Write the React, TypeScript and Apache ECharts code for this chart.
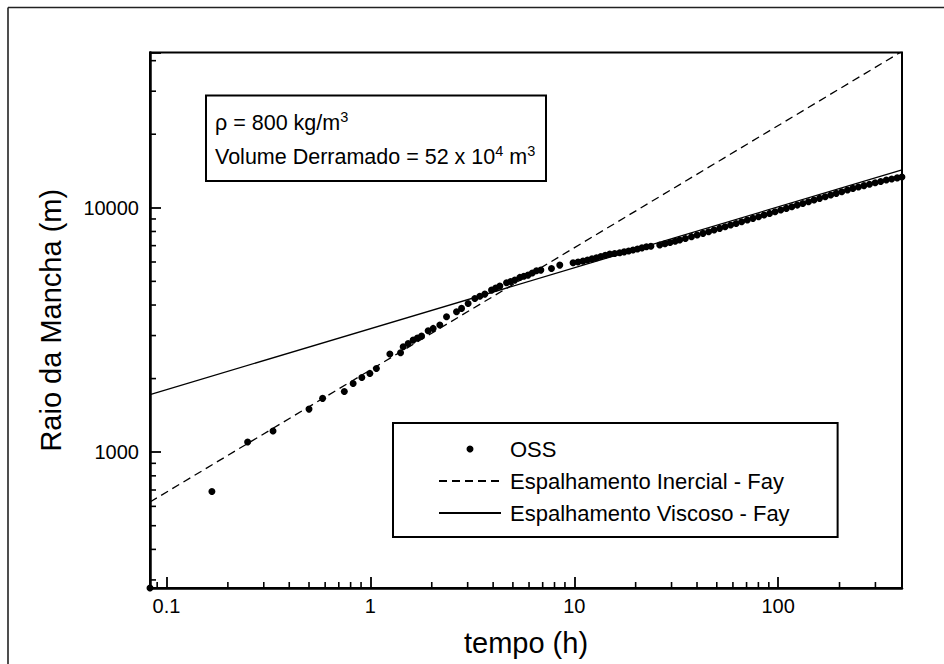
import React, { useEffect, useRef } from "react";
import * as echarts from "echarts";

// Axis ranges (log scales)
const X_MIN = 0.083;
const X_MAX = 405;
const Y_MIN = 278;
const Y_MAX = 43200;

// Tick labels / tick positions
const xMajorTicks = [0.1, 1, 10, 100];
const yMajorTicks = [1000, 10000];
const xMinorTicks = [0.09, 0.2, 0.3, 0.4, 0.5, 0.6, 0.7, 0.8, 0.9, 2, 3, 4, 5, 6, 7, 8, 9, 20, 30, 40, 50, 60, 70, 80, 90, 200, 300];
const yMinorTicks = [300, 400, 500, 600, 700, 800, 900, 2000, 3000, 4000, 5000, 6000, 7000, 8000, 9000, 20000, 30000, 40000];

// OSS model results (time in hours, radius in metres)
const ossTime = [
  0.083, 0.167, 0.25, 0.333, 0.5, 0.583, 0.745, 0.823, 0.908, 0.994, 1.07, 1.246, 1.406,
  1.448, 1.532, 1.621, 1.7, 1.782, 1.92, 2.032, 2.191, 2.363, 2.645, 2.8, 3.016, 3.253,
  3.442, 3.642, 3.928, 4.117, 4.314, 4.653, 4.875, 5.108, 5.405, 5.662, 5.935, 6.223,
  6.526, 6.855, 7.731, 8.49, 9.865, 10.44, 11.04, 11.61, 12.22, 12.85, 13.51, 14.2,
  14.93, 15.79, 16.71, 17.57, 18.48, 19.42, 20.42, 21.48, 22.59, 23.77, 26.25, 27.86,
  29.51, 31.26, 32.9, 35.08, 37.58, 40.09, 42.8, 45.6, 48.53, 51.67, 54.95, 58.48,
  62.23, 66.22, 70.63, 75.25, 80.17, 85.31, 90.78, 96.61, 103.0, 109.7, 116.7, 124.2,
  132.1, 140.9, 150.0, 159.7, 170.2, 181.1, 192.8, 205.1, 218.8, 232.6, 247.7, 263.6,
  280.5, 299.2, 318.4, 339.2, 360.6, 383.7, 404.6,
];
const ossRadius = [
  278, 690, 1100, 1220, 1500, 1660, 1770, 1910, 2020, 2100, 2200, 2520, 2550,
  2698, 2785, 2874, 2929, 2984, 3137, 3209, 3311, 3580, 3752, 3875, 4061, 4257,
  4344, 4433, 4604, 4691, 4781, 4932, 4995, 5058, 5189, 5246, 5303, 5412,
  5522, 5558, 5648, 5827, 5955, 6003, 6051, 6114, 6178, 6243, 6316, 6390,
  6465, 6505, 6545, 6601, 6656, 6713, 6783, 6855, 6927, 6964, 7038, 7126,
  7211, 7300, 7377, 7492, 7618, 7736, 7858, 7984, 8110, 8238, 8366, 8498,
  8630, 8767, 8909, 9052, 9197, 9342, 9484, 9634, 9788, 9943, 10097, 10257,
  10418, 10588, 10755, 10928, 11103, 11279, 11455, 11633, 11822, 12006, 12165, 12323,
  12483, 12651, 12818, 12985, 13117, 13254, 13370,
];

// Fay spreading laws (end points of the straight lines on log-log axes)
const inercialTime = [0.083, 405];
const inercialRadius = [625, 43660];
const viscosoTime = [0.083, 405];
const viscosoRadius = [1720, 14300];

const seriesNames = ["OSS", "Espalhamento Inercial - Fay", "Espalhamento Viscoso - Fay"];

const FONT = "'Liberation Sans', Arial, Helvetica, sans-serif";

function isMajor(v: number, list: number[]) {
  return list.some((m) => Math.abs(v - m) / m < 1e-6);
}

export default function App() {
  const ref = useRef<HTMLDivElement>(null);

  useEffect(() => {
    if (!ref.current) return;
    const chart = echarts.init(ref.current, undefined, { renderer: "svg" });

    const pair = (xs: number[], ys: number[]) => xs.map((x, i) => [x, ys[i]]);
    const supStyle = { fontSize: 14.5, fontFamily: FONT, fill: "#000", padding: [0, 0, 13, 0] };

    const option: any = {
      animation: false,
      backgroundColor: "#fff",
      textStyle: { fontFamily: FONT },
      grid: {
        left: 150,
        right: 42,
        top: 52.5,
        bottom: 76,
        show: true,
        borderColor: "#000",
        borderWidth: 2,
        backgroundColor: "transparent",
        containLabel: false,
        outerBoundsMode: "none",
      },
      legend: {
        orient: "vertical",
        left: 393,
        top: 423,
        data: [
          { name: seriesNames[0] },
          { name: seriesNames[1], itemStyle: { opacity: 0 } },
          { name: seriesNames[2], itemStyle: { opacity: 0 } },
        ],
        itemWidth: 62,
        itemHeight: 7,
        itemGap: 10,
        padding: [15, 48, 13, 45],
        borderColor: "#000",
        borderWidth: 2,
        backgroundColor: "#fff",
        textStyle: { fontSize: 22, color: "#000", fontFamily: FONT, padding: [0, 0, 0, 4] },
        selectedMode: false,
      },
      xAxis: {
        type: "log",
        logBase: 10,
        min: X_MIN,
        max: X_MAX,
        name: "tempo (h)",
        nameLocation: "middle",
        nameGap: 40,
        nameMoveOverlap: false,
        nameTextStyle: { fontSize: 29, color: "#000", fontFamily: FONT },
        axisLine: { show: true, onZero: false, lineStyle: { color: "#000", width: 2.5 } },
        axisTick: { show: true, inside: true, length: 11, lineStyle: { color: "#000", width: 1.8 } },
        axisLabel: {
          show: true,
          margin: 8,
          fontSize: 20,
          color: "#000",
          fontFamily: FONT,
          hideOverlap: false,
          formatter: (v: number) => (isMajor(v, xMajorTicks) ? String(v < 1 ? v.toFixed(1) : Math.round(v)) : ""),
        },
        splitLine: { show: false },
        minorTick: { show: false },
      },
      yAxis: {
        type: "log",
        logBase: 10,
        min: Y_MIN,
        max: Y_MAX,
        name: "Raio da Mancha (m)",
        nameLocation: "middle",
        nameRotate: 90,
        nameGap: 85,
        nameMoveOverlap: false,
        nameTextStyle: { fontSize: 29, color: "#000", fontFamily: FONT },
        axisLine: { show: true, onZero: false, lineStyle: { color: "#000", width: 2.5 } },
        axisTick: { show: true, inside: true, length: 11, lineStyle: { color: "#000", width: 1.8 } },
        axisLabel: {
          show: true,
          margin: 11,
          fontSize: 20,
          color: "#000",
          fontFamily: FONT,
          hideOverlap: false,
          formatter: (v: number) => (isMajor(v, yMajorTicks) ? String(Math.round(v)) : ""),
        },
        splitLine: { show: false },
        minorTick: { show: false },
      },
      series: [
        {
          name: seriesNames[1],
          type: "line",
          data: pair(inercialTime, inercialRadius),
          symbol: "none",
          showSymbol: false,
          lineStyle: { color: "#000", width: 1.3, type: [8, 5] },
          itemStyle: { color: "#000" },
          z: 2,
        },
        {
          name: seriesNames[2],
          type: "line",
          data: pair(viscosoTime, viscosoRadius),
          symbol: "none",
          showSymbol: false,
          lineStyle: { color: "#000", width: 1.3, type: "solid" },
          itemStyle: { color: "#000" },
          z: 2,
        },
        {
          name: seriesNames[0],
          type: "scatter",
          data: pair(ossTime, ossRadius),
          symbol: "circle",
          symbolSize: 7,
          clip: false,
          itemStyle: { color: "#000", opacity: 1 },
          z: 3,
        },
        {
          name: "xMinor",
          type: "custom",
          silent: true,
          data: xMinorTicks.map((v) => [v, Y_MIN]),
          renderItem: (_p: any, api: any) => {
            const pt = api.coord([api.value(0), api.value(1)]);
            return {
              type: "line",
              shape: { x1: pt[0], y1: pt[1], x2: pt[0], y2: pt[1] - 6 },
              style: { stroke: "#000", lineWidth: 1.6 },
            };
          },
          z: 4,
        },
        {
          name: "yMinor",
          type: "custom",
          silent: true,
          data: yMinorTicks.map((v) => [X_MIN, v]),
          renderItem: (_p: any, api: any) => {
            const pt = api.coord([api.value(0), api.value(1)]);
            return {
              type: "line",
              shape: { x1: pt[0], y1: pt[1], x2: pt[0] + 6, y2: pt[1] },
              style: { stroke: "#000", lineWidth: 1.6 },
            };
          },
          z: 4,
        },
      ],
      graphic: [
        { type: "line", shape: { x1: 8, y1: 7.5, x2: 944, y2: 7.5 }, style: { stroke: "#222", lineWidth: 1.6 } },
        { type: "line", shape: { x1: 8, y1: 7.5, x2: 8, y2: 664 }, style: { stroke: "#222", lineWidth: 1.6 } },
        {
          type: "rect",
          shape: { x: 206, y: 95.5, width: 340, height: 85.5 },
          style: { fill: "transparent", stroke: "#000", lineWidth: 2 },
        },
        {
          type: "text",
          x: 215,
          y: 123,
          style: {
            text: "ρ = 800 kg/m{s|3}",
            fontSize: 21.5,
            fontFamily: FONT,
            fill: "#000",
            verticalAlign: "middle",
            rich: { s: supStyle },
          },
        },
        {
          type: "text",
          x: 215,
          y: 157,
          style: {
            text: "Volume Derramado = 52 x 10{s|4} m{s|3}",
            fontSize: 21.5,
            fontFamily: FONT,
            fill: "#000",
            verticalAlign: "middle",
            rich: { s: supStyle },
          },
        },
      ],
    };

    chart.setOption(option);
    return () => chart.dispose();
  }, []);

  return (
    <div
      ref={ref}
      style={{ position: "fixed", left: 0, top: 0, width: 944, height: 664, background: "#fff" }}
    />
  );
}
